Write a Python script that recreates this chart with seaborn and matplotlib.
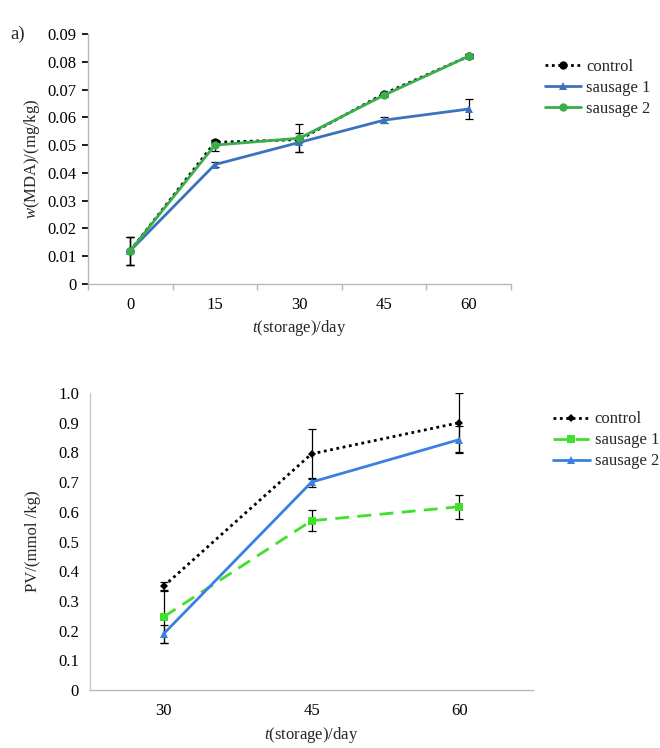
import numpy as np
import pandas as pd
import matplotlib
matplotlib.use("Agg")
import matplotlib.pyplot as plt
import seaborn as sns
from matplotlib.lines import Line2D

# ---- data: panel a (MDA) ----
days_a = ["0", "15", "30", "45", "60"]
mda_control = [0.012, 0.051, 0.052, 0.0685, 0.082]
mda_s1 = [0.012, 0.043, 0.051, 0.059, 0.063]
mda_s2 = [0.012, 0.050, 0.0525, 0.068, 0.082]
mda_s1_err = [0.005, 0.0008, 0.0035, 0.001, 0.0035]
mda_s2_err = [0.005, 0.002, 0.005, 0.0008, 0.0008]
mda_control_err = [0.005, 0.001, 0.001, 0.0008, 0.0008]

# ---- data: panel b (PV) ----
days_b = ["30", "45", "60"]
pv_control = [0.35, 0.795, 0.90]
pv_s1 = [0.247, 0.57, 0.617]
pv_s2 = [0.19, 0.70, 0.843]
pv_control_err = [0.015, 0.085, 0.10]
pv_s1_err = [0.09, 0.035, 0.04]
pv_s2_err = [0.03, 0.015, 0.045]

sns.set_theme(style="white")
plt.rcParams["font.family"] = ["Liberation Serif", "DejaVu Serif"]
plt.rcParams["mathtext.fontset"] = "custom"
plt.rcParams["mathtext.rm"] = "Liberation Serif"
plt.rcParams["mathtext.it"] = "Liberation Serif:italic"

fig = plt.figure(figsize=(6.6, 7.48), dpi=100)
ax1 = fig.add_axes([0.1333, 0.6203, 0.6409, 0.3342])
ax2 = fig.add_axes([0.1364, 0.0775, 0.6712, 0.3971])

FS = 12
spine_c = "#b8b8b8"

def style_axes(ax):
    for s in ["top", "right"]:
        ax.spines[s].set_visible(False)
    for s in ["left", "bottom"]:
        ax.spines[s].set_color(spine_c)
        ax.spines[s].set_linewidth(1.0)
    ax.tick_params(axis="both", labelsize=FS, colors="black")

# ---------- panel a ----------
xa = np.arange(len(days_a))
dfa = pd.DataFrame({
    "x": np.tile(xa, 3),
    "y": mda_control + mda_s1 + mda_s2,
    "series": ["control"] * 5 + ["sausage 1"] * 5 + ["sausage 2"] * 5,
})
col_a = {"control": "black", "sausage 1": "#3a72bd", "sausage 2": "#3aae4a"}
ls_a = {"control": (0, (1, 1.3)), "sausage 1": "-", "sausage 2": "-"}
mk_a = {"control": "o", "sausage 1": "^", "sausage 2": "o"}
err_a = {"control": mda_control_err, "sausage 1": mda_s1_err, "sausage 2": mda_s2_err}
for name in ["control", "sausage 1", "sausage 2"]:
    sub = dfa[dfa.series == name]
    ax1.errorbar(sub.x, sub.y, yerr=err_a[name], fmt="none", ecolor="black",
                 elinewidth=0.9, capsize=3, capthick=0.9, zorder=2)
    sns.lineplot(data=sub, x="x", y="y", ax=ax1, color=col_a[name],
                 linestyle=ls_a[name], linewidth=2.0, marker=mk_a[name],
                 markersize=6, markeredgewidth=0, legend=False, zorder=3)

ax1.set_xlim(-0.5, len(days_a) - 0.5)
ax1.set_ylim(0, 0.09)
ax1.set_yticks(np.arange(0, 0.0901, 0.01))
ax1.set_yticklabels(["0"] + [f"{v:.2f}" for v in np.arange(0.01, 0.0901, 0.01)])
ax1.set_xticks(xa)
ax1.set_xticklabels(days_a)
ax1.set_xticks(np.arange(-0.5, len(days_a), 1.0), minor=True)
ax1.tick_params(axis="x", which="major", length=0, pad=9)
ax1.tick_params(axis="x", which="minor", length=4, color=spine_c, direction="out", bottom=True)
ax1.tick_params(axis="y", length=4, color=spine_c, direction="out", left=True, pad=4)
style_axes(ax1)
ax1.set_xlabel(r"$\it{t}$(storage)/day", fontsize=FS, labelpad=4)
ax1.set_ylabel(r"$\it{w}$(MDA)/(mg/kg)", fontsize=FS, labelpad=4)

h_a = [Line2D([], [], color=col_a[n], linestyle=ls_a[n], linewidth=2.0,
              marker=mk_a[n], markersize=6, markeredgewidth=0) for n in col_a]
fig.legend(h_a, list(col_a), loc="upper left", bbox_to_anchor=(0.825, 0.921),
           frameon=False, fontsize=FS, handlelength=2.2, handletextpad=0.3,
           labelspacing=0.3, borderpad=0, borderaxespad=0)

fig.text(0.015, 0.948, "a)", fontsize=13.5)

# ---------- panel b ----------
xb = np.arange(len(days_b))
dfb = pd.DataFrame({
    "x": np.tile(xb, 3),
    "y": pv_control + pv_s1 + pv_s2,
    "series": ["control"] * 3 + ["sausage 1"] * 3 + ["sausage 2"] * 3,
})
col_b = {"control": "black", "sausage 1": "#3ee02a", "sausage 2": "#3b80e0"}
ls_b = {"control": (0, (1, 1.3)), "sausage 1": (0, (5, 3)), "sausage 2": "-"}
mk_b = {"control": "D", "sausage 1": "s", "sausage 2": "^"}
err_b = {"control": pv_control_err, "sausage 1": pv_s1_err, "sausage 2": pv_s2_err}
for name in ["control", "sausage 1", "sausage 2"]:
    sub = dfb[dfb.series == name]
    ax2.errorbar(sub.x, sub.y, yerr=err_b[name], fmt="none", ecolor="black",
                 elinewidth=0.9, capsize=3, capthick=0.9, zorder=2)
    sns.lineplot(data=sub, x="x", y="y", ax=ax2, color=col_b[name],
                 linestyle=ls_b[name], linewidth=2.0, marker=mk_b[name],
                 markersize=6 if name != "control" else 4.5, markeredgewidth=0,
                 legend=False, zorder=3)

ax2.set_xlim(-0.5, len(days_b) - 0.5)
ax2.set_ylim(0, 1.0)
ax2.set_yticks(np.arange(0, 1.001, 0.1))
ax2.set_yticklabels(["0"] + [f"{v:.1f}" for v in np.arange(0.1, 1.001, 0.1)])
ax2.set_xticks(xb)
ax2.set_xticklabels(days_b)
ax2.tick_params(axis="x", length=0, pad=9)
ax2.tick_params(axis="y", length=0, pad=8)
style_axes(ax2)
ax2.spines["left"].set_color("#c8c8c8")
ax2.set_xlabel(r"$\it{t}$(storage)/day", fontsize=FS, labelpad=5)
ax2.set_ylabel("PV/(mmol /kg)", fontsize=FS, labelpad=12)

h_b = [Line2D([], [], color=col_b[n], linestyle=ls_b[n], linewidth=2.0,
              marker=mk_b[n], markersize=6 if n != "control" else 4.5,
              markeredgewidth=0) for n in col_b]
fig.legend(h_b, list(col_b), loc="upper left", bbox_to_anchor=(0.838, 0.450),
           frameon=False, fontsize=FS, handlelength=2.2, handletextpad=0.3,
           labelspacing=0.3, borderpad=0, borderaxespad=0)

fig.savefig("out.png", dpi=100)
